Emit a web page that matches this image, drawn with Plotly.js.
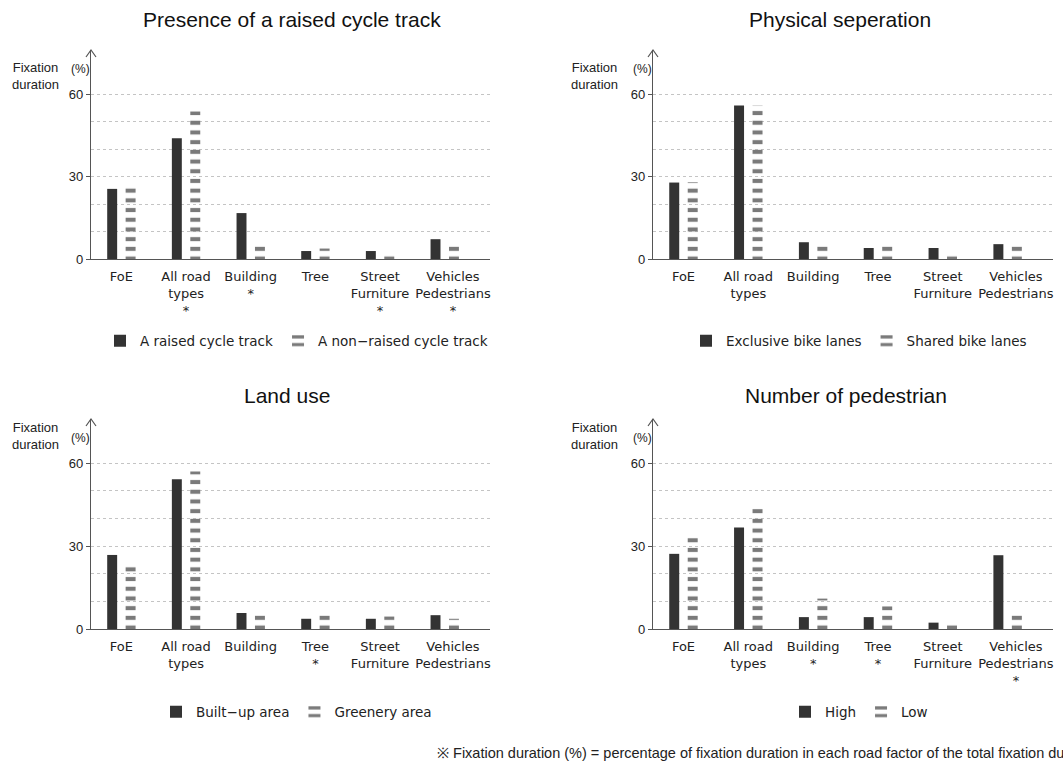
<!DOCTYPE html>
<html>
<head>
<meta charset="utf-8">
<script src="https://cdn.plot.ly/plotly-3.0.1.min.js"></script>
<style>html,body{margin:0;padding:0;background:#fff;}#chart{width:1063px;height:772px;}</style>
</head>
<body>
<div id="chart"></div>
<script>
// ---------- data ----------
const categories = ['FoE', 'All road types', 'Building', 'Tree', 'Street Furniture', 'Vehicles Pedestrians'];

const VP = '\u00a0\u00a0\u00a0\u00a0Vehicles<br>\u00a0\u00a0\u00a0\u00a0Pedestrians';
const ticksRaised   = ['FoE', 'All road<br>types<br>*', 'Building<br>*', 'Tree', 'Street<br>Furniture<br>*', VP + '<br>\u00a0\u00a0\u00a0\u00a0*'];
const ticksSeparate = ['FoE', 'All road<br>types', 'Building', 'Tree', 'Street<br>Furniture', VP];
const ticksLandUse  = ['FoE', 'All road<br>types', 'Building', 'Tree<br>*', 'Street<br>Furniture', VP];
const ticksPed      = ['FoE', 'All road<br>types', 'Building<br>*', 'Tree<br>*', 'Street<br>Furniture', VP + '<br>\u00a0\u00a0\u00a0\u00a0*'];

const raised    = [25.5, 43.9, 16.7, 2.9, 2.9, 7.2];
const nonRaised = [26.1, 53.6, 5.1, 3.8, 1.7, 5.1];

const exclusive = [27.8, 55.8, 6.1, 4.0, 4.0, 5.4];
const shared    = [27.9, 55.9, 5.1, 5.1, 1.6, 5.1];

const builtUp   = [26.8, 54.2, 5.8, 3.7, 3.7, 5.0];
const greenery  = [22.8, 57.0, 5.2, 5.2, 4.5, 3.7];

const highPed   = [27.2, 36.7, 4.3, 4.3, 2.3, 26.7];
const lowPed    = [33.1, 43.5, 11.0, 8.2, 1.7, 5.2];

const panelTitles = ['Presence of a raised cycle track', 'Physical seperation', 'Land use', 'Number of pedestrian'];
const seriesNames = [
  ['A raised cycle track', 'A non\u2212raised cycle track'],
  ['Exclusive bike lanes', 'Shared bike lanes'],
  ['Built\u2212up area', 'Greenery area'],
  ['High', 'Low']
];
const yTicks = [0, 30, 60];
const yMinorGrid = [10, 20, 40, 50];
const footnote = '\u203B Fixation duration (%) = percentage of fixation duration in each road factor of the total fixation duration';

// ---------- styling / layout ----------
const W = 1063, H = 772;
const FONT = 'Liberation Sans, Arial, sans-serif';
const WIDE = 'DejaVu Sans, Verdana, sans-serif';
const DARK = '#333333', GRAY = '#7a7a7a', AX = '#555555', TXT = '#222222';
const px = x => x / W;
const py = y => 1 - y / H;

const panels = [
  {xa: 'x',  ya: 'y',  xd: [91, 490],  yd: [259, 50],  a: raised,    b: nonRaised, ticks: ticksRaised,   leg: 'legend',  legY: 341, titleX: 292, titleY: 20,  labX: 35,  pctX: 80,  labY: 76,  pctY: 69},
  {xa: 'x2', ya: 'y2', xd: [653, 1053], yd: [259, 50],  a: exclusive, b: shared,    ticks: ticksSeparate, leg: 'legend2', legY: 341, titleX: 840, titleY: 20,  labX: 594, pctX: 642, labY: 76,  pctY: 69},
  {xa: 'x3', ya: 'y3', xd: [91, 490],  yd: [629, 419], a: builtUp,   b: greenery,  ticks: ticksLandUse,  leg: 'legend3', legY: 712, titleX: 287, titleY: 395, labX: 35,  pctX: 80,  labY: 436, pctY: 438},
  {xa: 'x4', ya: 'y4', xd: [653, 1053], yd: [629, 419], a: highPed,   b: lowPed,    ticks: ticksPed,      leg: 'legend4', legY: 712, titleX: 846, titleY: 395, labX: 594, pctX: 642, labY: 436, pctY: 438}
];

const data = [];
const layout = {
  width: W, height: H,
  margin: {l: 0, r: 0, t: 0, b: 0},
  paper_bgcolor: '#fff', plot_bgcolor: 'rgba(0,0,0,0)',
  font: {family: FONT, color: TXT, size: 14},
  barmode: 'group', bargap: 0.43, bargroupgap: 0.46,
  annotations: [], shapes: []
};

panels.forEach((p, i) => {
  const n = i === 0 ? '' : String(i + 1);
  data.push({
    type: 'bar', x: categories, y: p.a, name: seriesNames[i][0],
    xaxis: p.xa, yaxis: p.ya, legend: p.leg,
    marker: {color: DARK, line: {width: 0}}, hoverinfo: 'y'
  });
  data.push({
    type: 'bar', x: categories, y: p.b, name: seriesNames[i][1],
    xaxis: p.xa, yaxis: p.ya, legend: p.leg,
    marker: {color: GRAY, line: {width: 0},
      pattern: {shape: '-', size: 9.7, solidity: 0.42, fillmode: 'replace', fgcolor: GRAY, bgcolor: 'rgba(255,255,255,0)'}},
    hoverinfo: 'y'
  });
  layout['xaxis' + n] = {
    domain: [px(p.xd[0]), px(p.xd[1])], anchor: p.ya,
    range: [-0.47, 5.7], type: 'category',
    tickmode: 'array', tickvals: categories, ticktext: p.ticks, tickangle: 0,
    ticks: '', ticklabelstandoff: 5, showline: true, linecolor: AX, linewidth: 1.2,
    showgrid: false, zeroline: false, fixedrange: true,
    tickfont: {family: WIDE, size: 13, color: TXT}
  };
  layout['yaxis' + n] = {
    domain: [py(p.yd[0]), py(p.yd[1])], anchor: p.xa,
    range: [0, 76],
    tickmode: 'array', tickvals: yTicks, ticktext: yTicks.map(String),
    ticks: 'outside', ticklen: 4, tickcolor: AX, tickwidth: 1,
    showline: true, linecolor: AX, linewidth: 1.2,
    showgrid: true, gridcolor: '#c4c4c4', gridwidth: 1, griddash: 'dot',
    minor: {tickmode: 'array', tickvals: yMinorGrid, showgrid: true, gridcolor: '#c4c4c4', gridwidth: 1, griddash: 'dot', ticks: ''},
    zeroline: false, fixedrange: true,
    tickfont: {size: 13, color: TXT}
  };
  layout[p.leg] = {
    orientation: 'h', x: px((p.xd[0] + p.xd[1]) / 2 + 6), xanchor: 'center',
    y: py(p.legY), yanchor: 'middle',
    font: {family: WIDE, size: 13.5, color: TXT}, bgcolor: 'rgba(0,0,0,0)', traceorder: 'normal'
  };
  // arrow head on the y axis
  layout.shapes.push({
    type: 'path', xref: p.xa + ' domain', yref: p.ya + ' domain',
    xsizemode: 'pixel', ysizemode: 'pixel', xanchor: 0, yanchor: 1,
    path: 'M-5,-7L0,0L5,-7', line: {color: AX, width: 1.2}
  });
  // panel title
  layout.annotations.push({
    xref: 'paper', yref: 'paper', x: px(p.titleX), y: py(p.titleY),
    xanchor: 'center', yanchor: 'middle', showarrow: false,
    text: panelTitles[i], font: {size: 21, color: '#111'}
  });
  // y axis label
  layout.annotations.push({
    xref: 'paper', yref: 'paper', x: px(p.labX), y: py(p.labY),
    xanchor: 'center', yanchor: 'middle', showarrow: false,
    text: 'Fixation<br>duration', font: {size: 13, color: TXT}
  });
  layout.annotations.push({
    xref: 'paper', yref: 'paper', x: px(p.pctX), y: py(p.pctY),
    xanchor: 'center', yanchor: 'middle', showarrow: false,
    text: '(%)', font: {size: 12, color: TXT}
  });
});

layout.annotations.push({
  xref: 'paper', yref: 'paper', x: px(435), y: py(753),
  xanchor: 'left', yanchor: 'middle', showarrow: false,
  text: footnote, font: {size: 14.5, color: TXT}
});

Plotly.newPlot('chart', data, layout, {displayModeBar: false, staticPlot: true});
</script>
</body>
</html>
